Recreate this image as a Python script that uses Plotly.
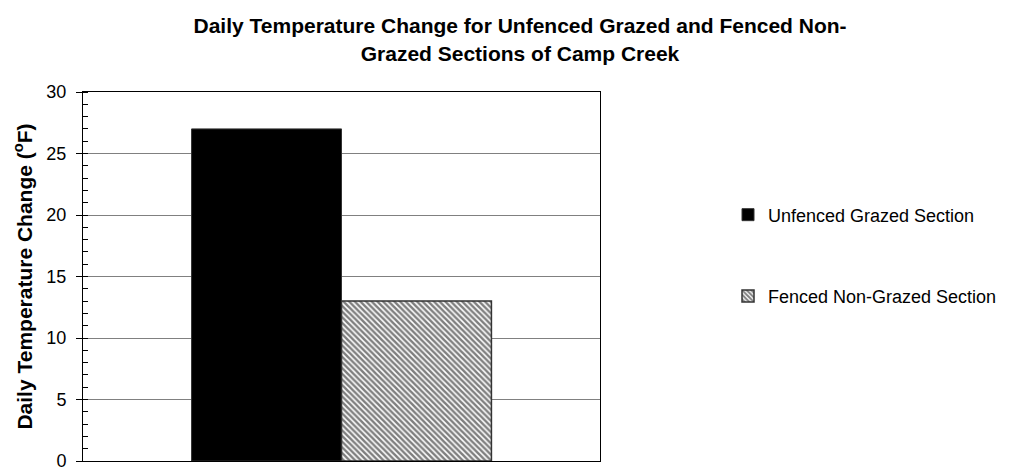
import plotly.graph_objects as go

# data
categories = [""]
series_names = ["Unfenced Grazed Section", "Fenced Non-Grazed Section"]
unfenced_vals = [27]
fenced_vals = [13]
y_ticks = [0, 5, 10, 15, 20, 25, 30]

FONT = "Liberation Sans, Arial, sans-serif"

fig = go.Figure()
fig.add_trace(go.Bar(x=categories, y=unfenced_vals, name=series_names[0], legendgroup="a",
                     marker=dict(color="black", line=dict(color="#333333", width=1))))
fig.add_trace(go.Bar(x=categories, y=fenced_vals, name=series_names[1], legendgroup="b",
                     marker=dict(color="white", line=dict(color="#333333", width=1.5),
                                 pattern=dict(shape="\\", fgcolor="black", bgcolor="white",
                                              size=4, solidity=0.62, fillmode="overlay"))))

fig.update_yaxes(range=[0, 30], tickvals=y_ticks, ticks="outside", ticklen=6, tickcolor="black",
                 ticklabelstandoff=6, ticklabeloverflow="allow",
                 showline=True, linecolor="black", linewidth=1, mirror=True,
                 showgrid=True, gridcolor="#808080", gridwidth=1, zeroline=False,
                 tickfont=dict(size=18, color="black", family=FONT),
                 minor=dict(dtick=1, ticks="inside", ticklen=5, tickcolor="black", showgrid=False),
                 title=dict(text="Daily Temperature Change (<sup>o</sup>F)", standoff=8,
                            font=dict(size=21, color="black", family=FONT, weight="bold")))
fig.update_xaxes(showline=True, linecolor="black", linewidth=1, mirror=True,
                 showticklabels=False, ticks="")

# the page body adds an 8px margin, so the figure is sized and placed to allow for it
fig.update_layout(
    width=1002, height=460, barmode="group", bargap=0.42, bargroupgap=0,
    template="simple_white", plot_bgcolor="white", paper_bgcolor="white",
    margin=dict(l=75, r=410, t=84, b=7, autoexpand=False),
    title=dict(text="Daily Temperature Change for Unfenced Grazed and Fenced Non-<br>Grazed Sections of Camp Creek",
               x=0.511, xanchor="center", y=0.945, yanchor="middle",
               font=dict(size=21, color="black", family=FONT, weight="bold")),
    legend=dict(x=1.2476, xanchor="left", y=0.557, yanchor="middle", tracegroupgap=55,
                font=dict(size=18, color="black", family=FONT), bgcolor="rgba(0,0,0,0)"),
    font=dict(family=FONT, color="black"),
)

fig.write_html("out.html")
